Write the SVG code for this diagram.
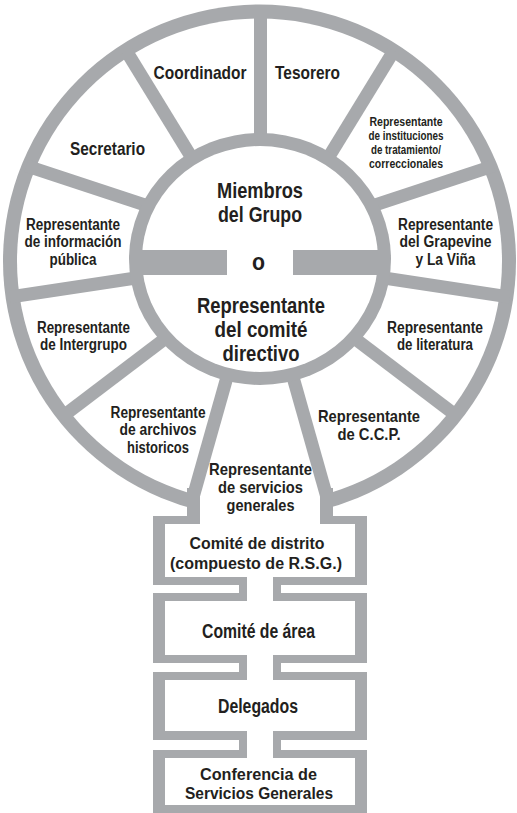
<svg xmlns="http://www.w3.org/2000/svg" width="517" height="813" viewBox="0 0 517 813">
<style>
.g{fill:#a7a9ac}
.w{fill:#ffffff}
.sp{stroke:#a7a9ac;stroke-width:13;fill:none}
text{font-family:"Liberation Sans Narrow","Arial Narrow","Liberation Sans",Arial,sans-serif;font-weight:bold;fill:#231f20;text-anchor:middle}
.s125{font-size:12.5px}
.s156{font-size:15.6px}
.s161{font-size:16.1px}
.s174{font-size:17.4px}
.s17{font-size:17px}
.s185{font-size:18.5px}
.s195{font-size:19.5px}
.s214{font-size:21.4px}
</style>
<rect width="517" height="813" fill="#ffffff"/>
<g id="wheel">
<circle class="g" cx="259.5" cy="261" r="256.5"/>
<circle class="w" cx="259.5" cy="261" r="242.5"/>
<rect class="w" x="200" y="440" width="120" height="90"/>
</g>
<g id="spokes">
<line class="sp" x1="260.5" y1="200" x2="260.5" y2="12"/>
<line class="sp" x1="317.3" y1="175.6" x2="393.7" y2="51"/>
<line class="sp" x1="202.7" y1="175.6" x2="126.3" y2="51"/>
<line class="sp" x1="349.5" y1="213.4" x2="493.6" y2="165.8"/>
<line class="sp" x1="170.5" y1="213.4" x2="26.4" y2="165.8"/>
<line class="sp" x1="354.4" y1="273.5" x2="510" y2="297"/>
<line class="sp" x1="165.6" y1="273.5" x2="10" y2="297"/>
<line class="sp" x1="338.1" y1="325.8" x2="459.6" y2="418.2"/>
<line class="sp" x1="181.9" y1="325.8" x2="60.4" y2="418.2"/>
<line class="sp" x1="271.2" y1="300" x2="327.3" y2="498.5"/>
<line class="sp" x1="248.8" y1="300" x2="192.7" y2="498.5"/>
</g>
<g id="hub">
<ellipse class="g" cx="260" cy="259" rx="131" ry="126"/>
<ellipse class="w" cx="260" cy="259" rx="118" ry="113"/>
<rect class="g" x="135" y="250" width="92" height="25"/>
<rect class="g" x="293" y="250" width="92" height="25"/>
</g>
<g id="stem">
<rect class="g" x="153" y="516" width="214" height="69"/>
<rect class="w" x="165" y="524" width="190" height="53"/>
<rect class="w" x="200" y="505" width="120" height="20"/>
<rect class="g" x="187" y="488" width="13" height="36"/>
<rect class="g" x="320" y="488" width="13" height="36"/>
<rect class="g" x="153" y="593" width="214" height="70"/>
<rect class="w" x="165" y="601" width="190" height="54"/>
<rect class="g" x="153" y="672" width="214" height="68"/>
<rect class="w" x="165" y="680" width="190" height="51"/>
<rect class="g" x="153" y="750" width="214" height="63"/>
<rect class="w" x="165" y="758" width="190" height="47"/>
</g>
<g id="connectors">
<rect class="g" x="239" y="577" width="42" height="24"/>
<rect class="w" x="247" y="577" width="26" height="24"/>
<rect class="g" x="239" y="655" width="42" height="25"/>
<rect class="w" x="247" y="655" width="26" height="25"/>
<rect class="g" x="239" y="731" width="42" height="27"/>
<rect class="w" x="247" y="731" width="26" height="27"/>
</g>
<g id="coordinador"><text class="s185" x="200" y="79" textLength="93" lengthAdjust="spacingAndGlyphs">Coordinador</text></g>
<g id="tesorero"><text class="s185" x="307.5" y="79" textLength="65" lengthAdjust="spacingAndGlyphs">Tesorero</text></g>
<g id="secretario"><text class="s185" x="107.5" y="155" textLength="75" lengthAdjust="spacingAndGlyphs">Secretario</text></g>
<g id="instituciones">
<text class="s125" x="406" y="126" textLength="73" lengthAdjust="spacingAndGlyphs">Representante</text>
<text class="s125" x="406" y="140" textLength="75" lengthAdjust="spacingAndGlyphs">de instituciones</text>
<text class="s125" x="406" y="154" textLength="70" lengthAdjust="spacingAndGlyphs">de tratamiento/</text>
<text class="s125" x="406" y="168" textLength="74" lengthAdjust="spacingAndGlyphs">correccionales</text>
</g>
<g id="grapevine">
<text class="s156" x="445.5" y="229.5" textLength="95" lengthAdjust="spacingAndGlyphs">Representante</text>
<text class="s156" x="445.5" y="247" textLength="92" lengthAdjust="spacingAndGlyphs">del Grapevine</text>
<text class="s156" x="445.5" y="264.5" textLength="60" lengthAdjust="spacingAndGlyphs">y La Viña</text>
</g>
<g id="informacion">
<text class="s156" x="73" y="229.5" textLength="94" lengthAdjust="spacingAndGlyphs">Representante</text>
<text class="s156" x="73" y="247" textLength="97" lengthAdjust="spacingAndGlyphs">de información</text>
<text class="s156" x="73" y="264.5" textLength="47" lengthAdjust="spacingAndGlyphs">pública</text>
</g>
<g id="intergrupo">
<text class="s156" x="83.5" y="332.5" textLength="93" lengthAdjust="spacingAndGlyphs">Representante</text>
<text class="s156" x="83.5" y="350" textLength="87" lengthAdjust="spacingAndGlyphs">de Intergrupo</text>
</g>
<g id="literatura">
<text class="s156" x="435" y="332.5" textLength="96" lengthAdjust="spacingAndGlyphs">Representante</text>
<text class="s156" x="435" y="350" textLength="76" lengthAdjust="spacingAndGlyphs">de literatura</text>
</g>
<g id="archivos">
<text class="s156" x="158" y="417.5" textLength="95" lengthAdjust="spacingAndGlyphs">Representante</text>
<text class="s156" x="158" y="435" textLength="77" lengthAdjust="spacingAndGlyphs">de archivos</text>
<text class="s156" x="158" y="452.5" textLength="62" lengthAdjust="spacingAndGlyphs">historicos</text>
</g>
<g id="ccp">
<text class="s161" x="369" y="421.5" textLength="102" lengthAdjust="spacingAndGlyphs">Representante</text>
<text class="s161" x="369" y="439.5" textLength="63" lengthAdjust="spacingAndGlyphs">de C.C.P.</text>
</g>
<g id="servicios">
<text class="s161" x="260.5" y="474.5" textLength="103" lengthAdjust="spacingAndGlyphs">Representante</text>
<text class="s161" x="260.5" y="492.5" textLength="85" lengthAdjust="spacingAndGlyphs">de servicios</text>
<text class="s161" x="260.5" y="510.5" textLength="68" lengthAdjust="spacingAndGlyphs">generales</text>
</g>
<g id="miembros">
<text class="s214" x="260" y="198" textLength="86" lengthAdjust="spacingAndGlyphs">Miembros</text>
<text class="s214" x="260" y="222" textLength="84" lengthAdjust="spacingAndGlyphs">del Grupo</text>
</g>
<g id="o"><text style="font-size:23px" x="258.5" y="270" textLength="13" lengthAdjust="spacingAndGlyphs">o</text></g>
<g id="comite-directivo">
<text class="s214" x="261" y="312.5" textLength="128" lengthAdjust="spacingAndGlyphs">Representante</text>
<text class="s214" x="261" y="336.5" textLength="93" lengthAdjust="spacingAndGlyphs">del comité</text>
<text class="s214" x="261" y="360.5" textLength="77" lengthAdjust="spacingAndGlyphs">directivo</text>
</g>
<g id="distrito">
<text class="s174" x="257" y="549" textLength="135" lengthAdjust="spacingAndGlyphs">Comité de distrito</text>
<text class="s174" x="256" y="568.5" textLength="172" lengthAdjust="spacingAndGlyphs">(compuesto de R.S.G.)</text>
</g>
<g id="area"><text class="s195" x="258.5" y="638" textLength="113" lengthAdjust="spacingAndGlyphs">Comité de área</text></g>
<g id="delegados"><text class="s195" x="258" y="713" textLength="80" lengthAdjust="spacingAndGlyphs">Delegados</text></g>
<g id="conferencia">
<text class="s17" x="258.5" y="779.5" textLength="117" lengthAdjust="spacingAndGlyphs">Conferencia de</text>
<text class="s17" x="259" y="798.5" textLength="148" lengthAdjust="spacingAndGlyphs">Servicios Generales</text>
</g>
</svg>
